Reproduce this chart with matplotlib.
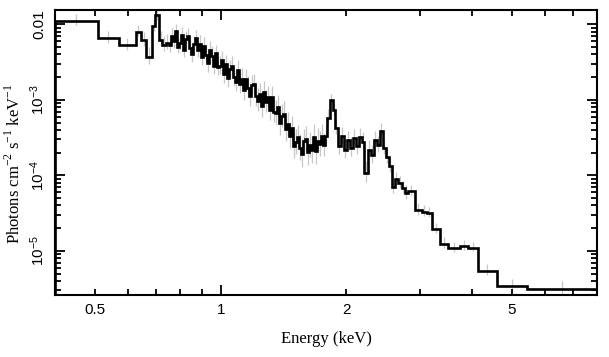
import matplotlib
matplotlib.use("Agg")
import matplotlib.pyplot as plt
import numpy as np
from matplotlib.ticker import FixedLocator, FuncFormatter, NullFormatter

plt.rcParams["mathtext.fontset"] = "custom"
plt.rcParams["mathtext.rm"] = "Liberation Serif"
plt.rcParams["mathtext.sf"] = "Liberation Sans"

# bin edges (keV)
edges = [
    0.400, 0.506, 0.570, 0.625, 0.643, 0.663, 0.683, 0.697, 0.712, 0.724, 0.738,
    0.75049, 0.75883, 0.76725, 0.77577, 0.78438, 0.79309, 0.80189, 0.81079, 0.81979, 0.82889,
    0.83809, 0.84740, 0.85680, 0.86632, 0.87593, 0.88566, 0.89549, 0.90543, 0.91548, 0.92564,
    0.93592, 0.94631, 0.95681, 0.96743, 0.97816, 0.98901, 1.00000, 1.01111, 1.02232, 1.03369,
    1.04516, 1.05676, 1.06849, 1.08034, 1.09233, 1.10446, 1.11671, 1.12911, 1.14164, 1.15431,
    1.16713, 1.18008, 1.19318, 1.20642, 1.21981, 1.23335, 1.24704, 1.26088, 1.27488, 1.28903,
    1.30334, 1.31780, 1.33243, 1.34722, 1.36217, 1.37729, 1.39257, 1.40803, 1.42366, 1.43946,
    1.45544, 1.47159, 1.48792, 1.50444, 1.52113, 1.53802, 1.55509, 1.57235, 1.58980, 1.60745,
    1.62529, 1.64333, 1.66156, 1.68000, 1.69865, 1.71750, 1.73657, 1.75584, 1.77532, 1.79503,
    1.8251, 1.8556, 1.8814, 1.9076, 1.9395, 1.9720, 2.0049, 2.0385, 2.0726, 2.1071,
    2.1424, 2.1782, 2.2024, 2.2517, 2.2893, 2.3276, 2.3666, 2.4061, 2.4464, 2.4873,
    2.5288, 2.5711, 2.6142, 2.6579, 2.7173, 2.7623, 2.8085, 2.9193, 3.0344, 3.1193,
    3.2065, 3.3514, 3.5025, 3.7418, 3.9113, 4.1334, 4.5916, 5.4474, 8.0,
]

# photons cm^-2 s^-1 keV^-1
flux = [
    0.01113, 0.00657, 0.00535, 0.00803, 0.00623, 0.00375, 0.00964, 0.01336, 0.00623, 0.00535,
    0.00569,
    5.253e-3, 7.085e-3, 5.972e-3, 8.052e-3, 5.034e-3, 5.723e-3, 7.216e-3, 4.595e-3, 6.309e-3, 6.999e-3,
    4.854e-3, 3.993e-3, 5.484e-3, 6.624e-3, 4.596e-3, 5.551e-3, 3.734e-3, 5.191e-3, 3.969e-3, 3.035e-3,
    4.594e-3, 3.850e-3, 2.838e-3, 4.142e-3, 2.687e-3, 2.787e-3, 3.325e-3, 2.183e-3, 2.961e-3, 1.945e-3,
    2.528e-3, 2.838e-3, 1.992e-3, 1.731e-3, 2.511e-3, 1.620e-3, 1.909e-3, 1.348e-3, 1.886e-3, 1.450e-3,
    1.116e-3, 1.552e-3, 1.600e-3, 1.123e-3, 9.762e-4, 1.194e-3, 8.177e-4, 1.261e-3, 9.409e-4, 1.076e-3,
    7.371e-4, 1.095e-3, 6.935e-4, 6.727e-4, 8.077e-4, 4.898e-4, 6.045e-4, 6.585e-4, 4.104e-4, 4.721e-4,
    3.295e-4, 4.181e-4, 2.459e-4, 2.744e-4, 3.196e-4, 2.327e-4, 1.938e-4, 2.812e-4, 3.026e-4, 2.035e-4,
    2.488e-4, 2.150e-4, 3.235e-4, 2.073e-4, 2.864e-4, 2.582e-4, 3.285e-4, 2.496e-4, 3.315e-4,
    0.000578, 0.001000, 0.000737, 0.000426, 0.000246, 0.000334, 0.000218, 0.000295, 0.000231, 0.000314,
    0.000246, 0.000324, 0.000278, 0.000108, 0.000218, 0.000187, 0.000295, 0.000254, 0.000389, 0.000231,
    0.000176, 0.000134, 7.04e-5, 8.99e-5, 7.96e-5, 6.83e-5, 5.86e-5, 6.23e-5, 3.49e-5, 3.29e-5,
    3.19e-5, 1.96e-5, 1.24e-5, 1.10e-5, 1.16e-5, 1.10e-5, 5.43e-6, 3.44e-6, 3.14e-6,
]

# fractional 1-sigma errors
rel_err = [
    0.22, 0.25, 0.25, 0.22, 0.28, 0.35, 0.25, 0.22, 0.30, 0.30,
    0.30,
    0.30, 0.26, 0.32, 0.25, 0.30, 0.28, 0.27, 0.33, 0.28, 0.26,
    0.32, 0.35, 0.29, 0.27, 0.33, 0.30, 0.36, 0.31, 0.34, 0.37,
    0.31, 0.34, 0.37, 0.30, 0.36, 0.35, 0.33, 0.38, 0.32, 0.39,
    0.35, 0.33, 0.38, 0.40, 0.34, 0.40, 0.37, 0.42, 0.36, 0.41,
    0.43, 0.38, 0.38, 0.43, 0.45, 0.41, 0.46, 0.40, 0.44, 0.42,
    0.46, 0.41, 0.46, 0.48, 0.44, 0.50, 0.47, 0.46, 0.50, 0.48,
    0.50, 0.46, 0.52, 0.50, 0.46, 0.52, 0.55, 0.48, 0.47, 0.54,
    0.50, 0.52, 0.46, 0.53, 0.47, 0.50, 0.47, 0.45, 0.45,
    0.30, 0.18, 0.22, 0.30, 0.38, 0.32, 0.38, 0.32, 0.38, 0.32,
    0.36, 0.32, 0.34, 0.42, 0.34, 0.36, 0.30, 0.32, 0.25, 0.30,
    0.30, 0.30, 0.30, 0.25, 0.25, 0.25, 0.28, 0.20, 0.22, 0.22,
    0.20, 0.20, 0.22, 0.20, 0.20, 0.18, 0.22, 0.25, 0.25,
]

edges = np.array(edges)
flux = np.array(flux)
rel_err = np.array(rel_err)
centers = np.sqrt(edges[:-1] * edges[1:])

fig = plt.figure(figsize=(6.09, 3.57), dpi=100)
ax = fig.add_axes([55 / 609, 1 - 295 / 357, 542 / 609, 285 / 357])

ax.vlines(centers, flux * (1 - 0.6 * rel_err), flux * (1 + rel_err), color="0.78", lw=0.9, zorder=1)
ax.stairs(flux, edges, color="black", lw=1.9, zorder=2)

ax.set_xscale("log")
ax.set_yscale("log")
ax.set_xlim(0.4, 8.0)
ax.set_ylim(2.6e-6, 0.0155)

# x ticks: 1 is major, the rest minor with 0.5, 2 and 5 labelled
ax.xaxis.set_major_locator(FixedLocator([1.0]))
ax.xaxis.set_major_formatter(FuncFormatter(lambda v, p: "1"))
minor_x = [0.4, 0.5, 0.6, 0.7, 0.8, 0.9, 2, 3, 4, 5, 6, 7, 8]
ax.xaxis.set_minor_locator(FixedLocator(minor_x))
ax.xaxis.set_minor_formatter(FuncFormatter(
    lambda v, p: {0.5: "0.5", 2: "2", 5: "5"}.get(round(v, 1), "")))

ylabels = {-2: "0.01", -3: r"$\mathsf{10^{-3}}$", -4: r"$\mathsf{10^{-4}}$", -5: r"$\mathsf{10^{-5}}$"}
ax.yaxis.set_major_locator(FixedLocator([1e-5, 1e-4, 1e-3, 1e-2]))
ax.yaxis.set_major_formatter(FuncFormatter(lambda v, p: ylabels.get(int(round(np.log10(v))), "")))
minor_y = [m * 10.0 ** e for e in range(-6, -1) for m in range(2, 10)]
ax.yaxis.set_minor_locator(FixedLocator(minor_y))
ax.yaxis.set_minor_formatter(NullFormatter())

for side in ax.spines.values():
    side.set_linewidth(1.5)

ax.tick_params(which="both", direction="in", top=True, right=True, width=1.3)
ax.tick_params(which="major", length=7)
ax.tick_params(which="minor", length=4)
ax.tick_params(axis="x", which="both", labelsize=11, pad=6)
ax.tick_params(axis="y", which="both", labelsize=11, pad=6)
for lab in ax.get_xticklabels(which="both"):
    lab.set_fontfamily("Liberation Sans")
for lab in ax.get_yticklabels():
    lab.set_fontfamily("Liberation Sans")
    lab.set_rotation(90)
    lab.set_verticalalignment("center")

ax.set_xlabel("Energy (keV)", fontfamily="Liberation Serif", fontsize=12, labelpad=10)
ax.set_ylabel(r"Photons cm$^{-2}$ s$^{-1}$ keV$^{-1}$", fontfamily="Liberation Serif",
              fontsize=12)
ax.yaxis.set_label_coords(-0.058, 0.46)

fig.savefig("out.png", dpi=100)
